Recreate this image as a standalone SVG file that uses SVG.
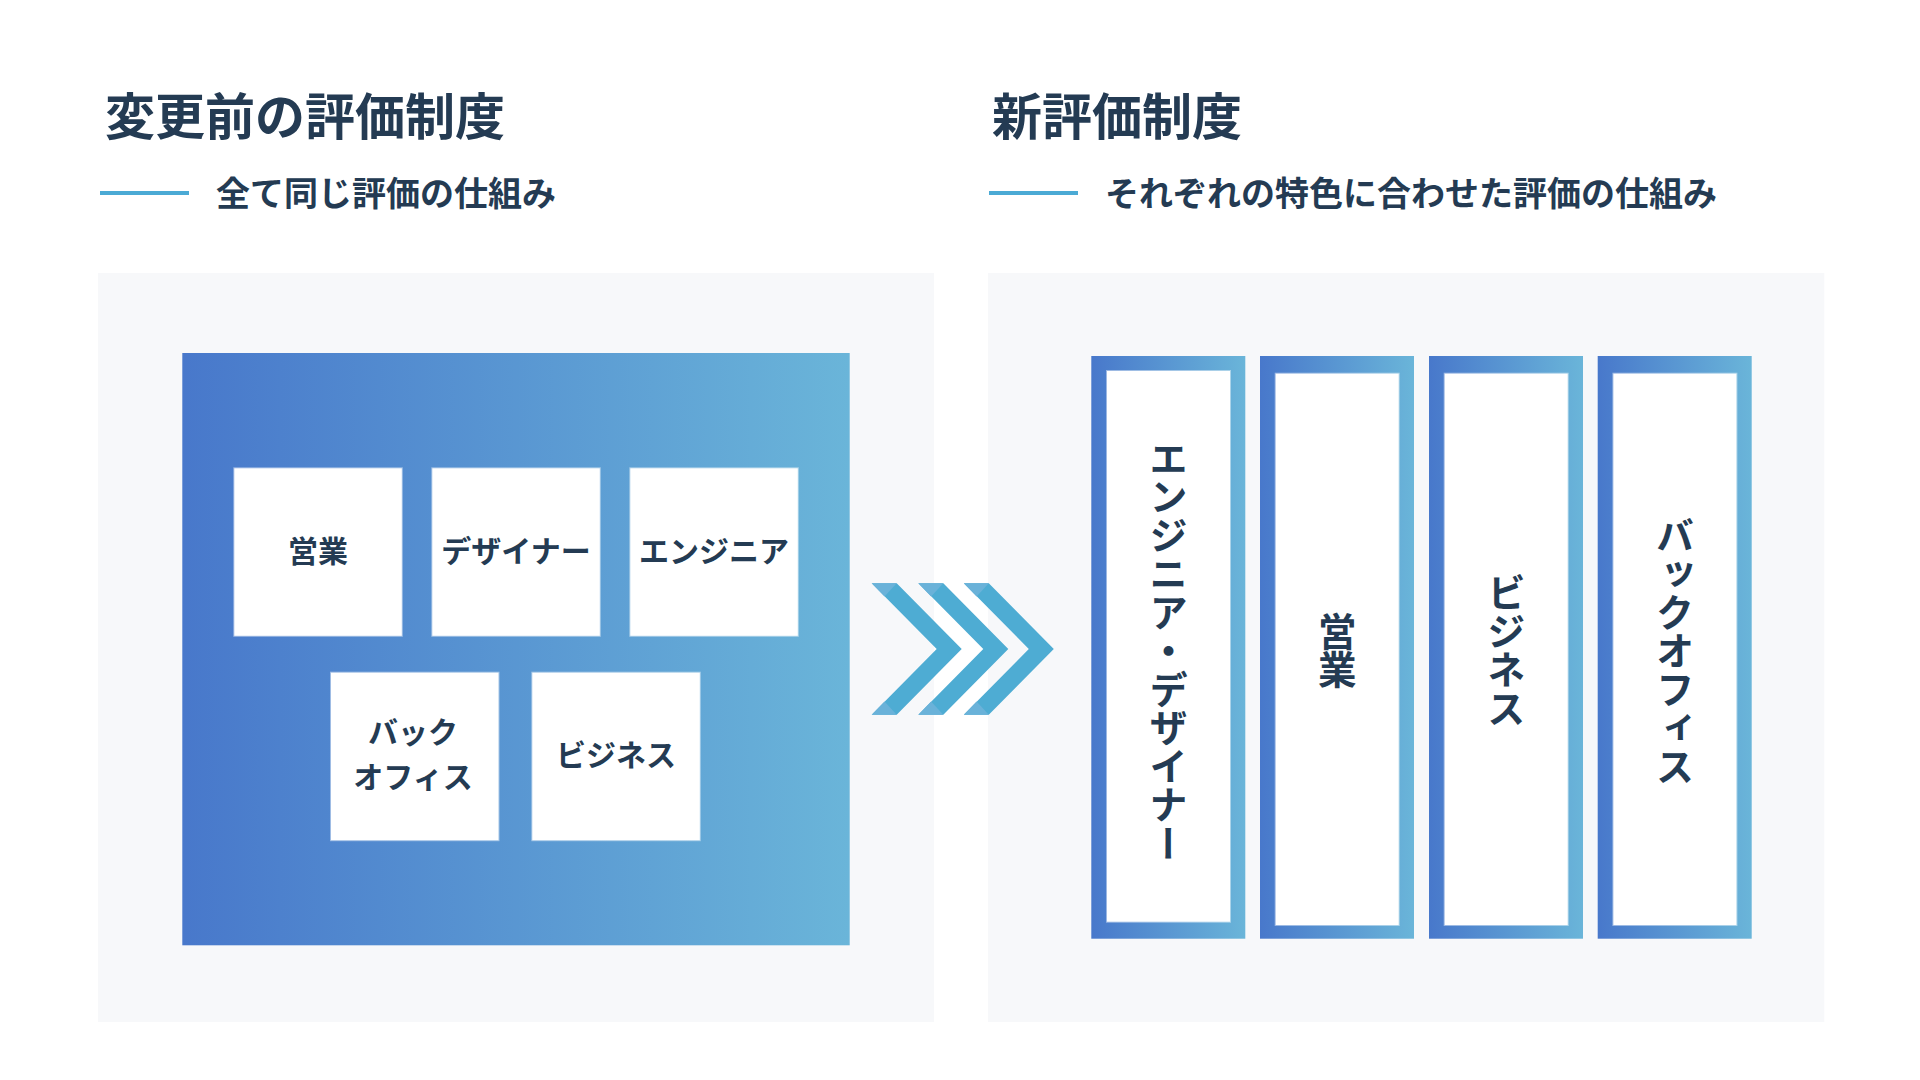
<svg xmlns="http://www.w3.org/2000/svg" width="1920" height="1080" viewBox="0 0 1920 1080">
  <defs>
    <linearGradient id="grad" x1="0" y1="0" x2="1" y2="0">
      <stop offset="0" stop-color="#4878cb"/>
      <stop offset="1" stop-color="#6ab5d9"/>
    </linearGradient>
    <style>
      text { font-family: "Noto Sans CJK JP", "Noto Sans CJK SC", sans-serif; font-weight: 700; fill: #243b53; }
      .title { font-size: 50px; }
      .sub { font-size: 34px; }
      .lbl { font-size: 30px; text-anchor: middle; dominant-baseline: central; }
      .vt { font-size: 38.5px; text-anchor: middle; writing-mode: vertical-rl; dominant-baseline: central; }
      .panel { fill: #f7f8fa; }
      .accent { fill: #4baad5; }
      .card { fill: #ffffff; stroke: #ffffff; stroke-opacity: 0.45; stroke-width: 2; }
      .chev { fill: #4eacd3; }
      .chevl { fill: #6ab2d9; }
    </style>
  </defs>
  <rect x="0" y="0" width="1920" height="1080" fill="#ffffff"/>

  <g id="header-left">
    <text class="title" x="105" y="134.5">変更前の評価制度</text>
    <rect class="accent" x="100" y="191" width="89" height="4"/>
    <text class="sub" x="216" y="206">全て同じ評価の仕組み</text>
  </g>
  <g id="header-right">
    <text class="title" x="992" y="134.5">新評価制度</text>
    <rect class="accent" x="989" y="191" width="89" height="4"/>
    <text class="sub" x="1105" y="206">それぞれの特色に合わせた評価の仕組み</text>
  </g>

  <g id="panel-left">
    <rect class="panel" x="98" y="273" width="836" height="749"/>
    <rect id="shared-system" x="182.3" y="353" width="667.4" height="592.3" fill="url(#grad)"/>
  </g>
  <g id="panel-right">
    <rect class="panel" x="988" y="273" width="836.3" height="749"/>
  </g>

  <g id="node-sales-old">
    <rect class="card" x="234.3" y="468.3" width="167.5" height="167.5"/>
    <text class="lbl" x="318" y="548.5">営業</text>
  </g>
  <g id="node-designer-old">
    <rect class="card" x="432.3" y="468.3" width="167.5" height="167.5"/>
    <text class="lbl" x="516" y="548.5">デザイナー</text>
  </g>
  <g id="node-engineer-old">
    <rect class="card" x="630.3" y="468.3" width="167.5" height="167.5"/>
    <text class="lbl" x="714" y="548.5">エンジニア</text>
  </g>
  <g id="node-backoffice-old">
    <rect class="card" x="331" y="672.7" width="167.5" height="167.5"/>
    <text class="lbl" x="413" y="729.5">バック</text>
    <text class="lbl" x="413" y="774.5">オフィス</text>
  </g>
  <g id="node-business-old">
    <rect class="card" x="532.3" y="672.7" width="167.5" height="167.5"/>
    <text class="lbl" x="616" y="753">ビジネス</text>
  </g>

  <g id="connectors">
    <polygon class="chev" points="871.7,583.3 896.7,583.3 961.7,649 896.7,714.7 871.7,714.7 936.7,649"/>
    <polygon class="chevl" points="871.7,583.3 896.7,583.3 884.5,596.5"/>
    <polygon class="chevl" points="871.7,714.7 896.7,714.7 884.5,701.5"/>
    <polygon class="chev" points="918.3,583.3 943.3,583.3 1008.3,649 943.3,714.7 918.3,714.7 983.3,649"/>
    <polygon class="chevl" points="918.3,583.3 943.3,583.3 931.1,596.5"/>
    <polygon class="chevl" points="918.3,714.7 943.3,714.7 931.1,701.5"/>
    <polygon class="chev" points="963.8,583.3 988.8,583.3 1053.8,649 988.8,714.7 963.8,714.7 1028.8,649"/>
    <polygon class="chevl" points="963.8,583.3 988.8,583.3 976.6,596.5"/>
    <polygon class="chevl" points="963.8,714.7 988.8,714.7 976.6,701.5"/>
  </g>

  <g id="node-engineer-designer">
    <rect x="1091.3" y="356" width="154" height="582.7" fill="url(#grad)"/>
    <rect class="card" x="1107" y="371" width="123" height="550.7"/>
    <text class="vt" x="1168.5" y="650.5">エンジニア・デザイナー</text>
  </g>
  <g id="node-sales-new">
    <rect x="1260" y="356" width="154" height="582.7" fill="url(#grad)"/>
    <rect class="card" x="1275.7" y="373.7" width="123" height="551.3"/>
    <text class="vt" x="1337.2" y="650.5">営業</text>
  </g>
  <g id="node-business-new">
    <rect x="1429" y="356" width="154" height="582.7" fill="url(#grad)"/>
    <rect class="card" x="1444.7" y="373.7" width="123" height="551.3"/>
    <text class="vt" x="1506.2" y="650.5">ビジネス</text>
  </g>
  <g id="node-backoffice-new">
    <rect x="1597.7" y="356" width="154" height="582.7" fill="url(#grad)"/>
    <rect class="card" x="1613.4" y="373.7" width="123" height="551.3"/>
    <text class="vt" x="1674.9" y="650.5">バックオフィス</text>
  </g>
</svg>
